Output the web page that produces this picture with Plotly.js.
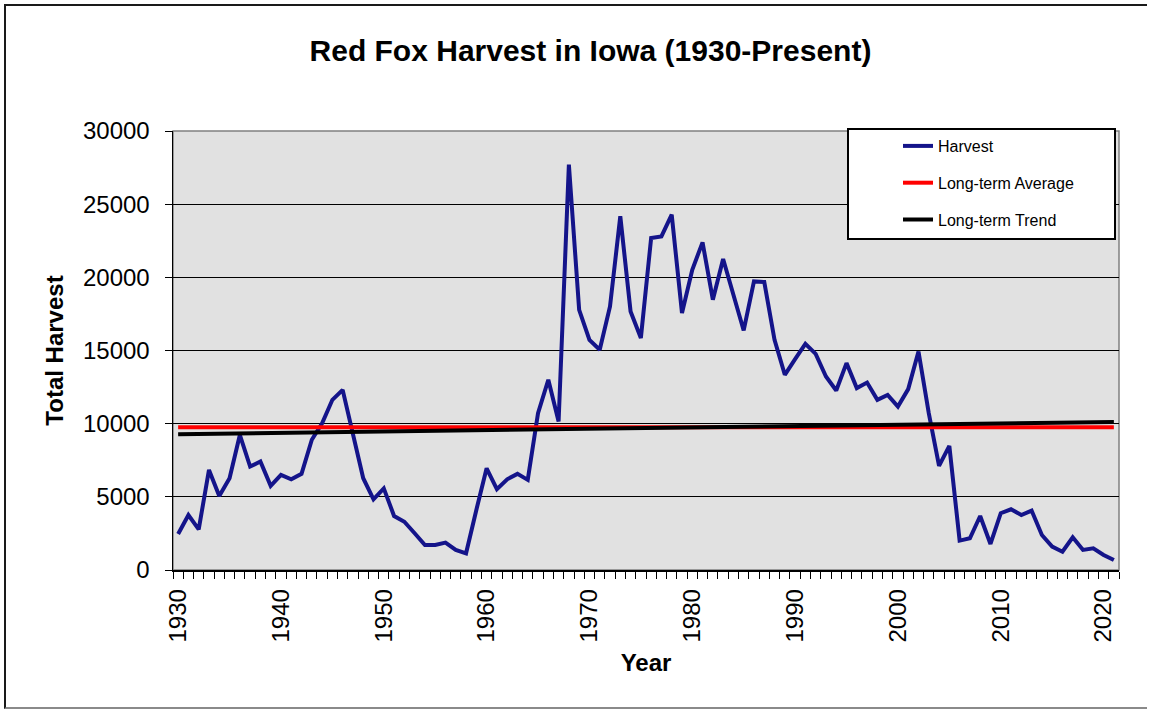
<!DOCTYPE html>
<html>
<head>
<meta charset="utf-8">
<script src="https://cdn.plot.ly/plotly-3.0.1.min.js"></script>
<style>
  html, body { margin: 0; padding: 0; background: #ffffff; }
  #wrap { position: relative; width: 1151px; height: 713px; overflow: hidden; }
  #chart { width: 1151px; height: 713px; }
  #frame { position: absolute; left: 4px; top: 4px; width: 1143px; height: 705px;
           border-left: 2px solid #1a1a1a; border-top: 2px solid #1a1a1a; border-bottom: 2px solid #8a8a8a;
           box-sizing: border-box; pointer-events: none; }
</style>
</head>
<body>
<div id="wrap">
  <div id="chart"></div>
  <div id="frame"></div>
</div>
<script>
// ---- data ----
const years = [
  1930,1931,1932,1933,1934,1935,1936,1937,1938,1939,
  1940,1941,1942,1943,1944,1945,1946,1947,1948,1949,
  1950,1951,1952,1953,1954,1955,1956,1957,1958,1959,
  1960,1961,1962,1963,1964,1965,1966,1967,1968,1969,
  1970,1971,1972,1973,1974,1975,1976,1977,1978,1979,
  1980,1981,1982,1983,1984,1985,1986,1987,1988,1989,
  1990,1991,1992,1993,1994,1995,1996,1997,1998,1999,
  2000,2001,2002,2003,2004,2005,2006,2007,2008,2009,
  2010,2011,2012,2013,2014,2015,2016,2017,2018,2019,
  2020,2021
];
const harvest = [
  2460,3760,2780,6840,5060,6270,9230,7070,7410,5750,
  6500,6200,6570,8900,10030,11630,12310,9350,6270,4830,
  5580,3690,3300,2510,1710,1710,1870,1370,1140,4100,
  6950,5520,6200,6570,6160,10720,13000,10150,27700,17780,
  15730,15050,18010,24170,17670,15850,22690,22800,24280,17560,
  20520,22390,18470,21250,18810,16370,19720,19680,15730,13340,
  14410,15460,14770,13220,12270,14140,12430,12810,11630,11970,
  11170,12360,14930,10720,7110,8480,2010,2170,3690,1780,
  3880,4150,3760,4060,2390,1600,1250,2240,1370,1480,
  1030,680
];
const avgYears = [1930, 2021];
const avgValues = [9750, 9750];
const trendYears = [1930, 2021];
const trendValues = [9280, 10120];
const yTickValues = [0, 5000, 10000, 15000, 20000, 25000, 30000];
const yTickLabels = ['0', '5000', '10000', '15000', '20000', '25000', '30000'];
const xTickValues = [1930, 1940, 1950, 1960, 1970, 1980, 1990, 2000, 2010, 2020];
const xTickLabels = ['1930','1940','1950','1960','1970','1980','1990','2000','2010','2020'];
const seriesNames = ['Harvest', 'Long-term Average', 'Long-term Trend'];

// ---- layout geometry ----
const L = 173, R = 1119, T = 131, B = 570, W = 1151, H = 713;
const px2x = p => (p - L) / (R - L);
const py2y = p => (B - p) / (B - T);

const traces = [
  { x: years, y: harvest, name: seriesNames[0], mode: 'lines', legendgroup: 'a',
    line: { color: '#14148a', width: 4 } },
  { x: avgYears, y: avgValues, name: seriesNames[1], mode: 'lines', legendgroup: 'b',
    line: { color: '#ff0000', width: 4 } },
  { x: trendYears, y: trendValues, name: seriesNames[2], mode: 'lines', legendgroup: 'c',
    line: { color: '#000000', width: 4 } }
];

const layout = {
  width: W, height: H,
  margin: { l: L, r: W - R, t: T, b: H - B, pad: 0 },
  paper_bgcolor: '#ffffff',
  plot_bgcolor: '#e1e1e1',
  font: { family: 'Arial, "Liberation Sans", sans-serif', color: '#000000' },
  title: { text: 'Red Fox Harvest in Iowa (1930-Present)', font: { size: 30, family: 'Arial, "Liberation Sans", sans-serif', weight: 'bold', color: '#000' },
           x: 0.513, xanchor: 'center', y: 1 - 50 / H, yanchor: 'middle' },
  xaxis: {
    range: [1929.5, 2021.5],
    tickmode: 'array', tickvals: xTickValues, ticktext: xTickLabels,
    tickangle: -90, tickfont: { size: 24 },
    ticks: 'outside', ticklen: 8, tickcolor: 'rgba(0,0,0,0)',
    minor: { tick0: 1929.5, dtick: 1, ticks: 'outside', ticklen: 7, tickcolor: '#000', tickwidth: 1, showgrid: false },
    showline: true, linecolor: '#000', linewidth: 1.5,
    showgrid: false, zeroline: false, fixedrange: true,
    title: { text: 'Year', font: { size: 24, weight: 'bold' }, standoff: 12 }
  },
  yaxis: {
    range: [0, 30000],
    tickmode: 'array', tickvals: yTickValues, ticktext: yTickLabels,
    tickfont: { size: 24 },
    ticks: 'outside', ticklen: 7, tickcolor: '#000',
    ticklabelstandoff: 10,
    showline: true, linecolor: '#000', linewidth: 1.5,
    showgrid: true, gridcolor: '#000', gridwidth: 1,
    zeroline: false, fixedrange: true,
    title: { text: 'Total Harvest', font: { size: 24, weight: 'bold' }, standoff: 12 }
  },
  showlegend: true,
  legend: {
    x: px2x(849), xanchor: 'left', y: py2y(129), yanchor: 'top',
    bgcolor: 'rgba(0,0,0,0)', borderwidth: 0,
    font: { size: 16, color: '#000' },
    traceorder: 'grouped', tracegroupgap: 13, indentation: 49
  },
  shapes: [
    { type: 'rect', xref: 'paper', yref: 'paper', x0: 0, x1: 1, y0: 0, y1: 1,
      line: { color: '#808080', width: 1.5 }, layer: 'below' },
    { type: 'rect', xref: 'paper', yref: 'paper', x0: px2x(848), x1: px2x(1115), y0: py2y(239), y1: py2y(129),
      fillcolor: '#ffffff', line: { color: '#000', width: 2 }, layer: 'above' }
  ]
};

Plotly.newPlot('chart', traces, layout, { staticPlot: true, displayModeBar: false });
</script>
</body>
</html>
